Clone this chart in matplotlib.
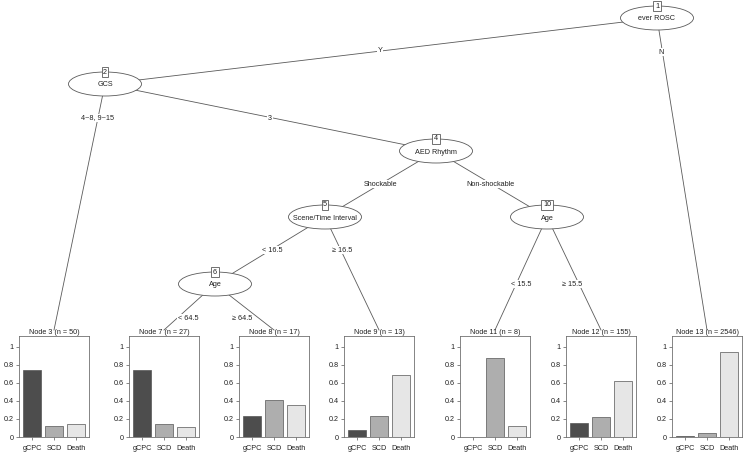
import matplotlib
matplotlib.use("Agg")
import matplotlib.pyplot as plt
from matplotlib.patches import Ellipse

plt.rcParams['font.family'] = ['Liberation Sans', 'DejaVu Sans']

# outcome classes and bar shades
classes = ['gCPC', 'SCD', 'Death']
class_colors = ['#4d4d4d', '#aeaeae', '#e6e6e6']

# inner (split) nodes: id, variable
inner_ids = [1, 2, 4, 5, 6, 10]
inner_vars = ['ever ROSC', 'GCS', 'AED Rhythm', 'Scene/Time Interval', 'Age', 'Age']

# terminal nodes: id, n, class proportions (gCPC, SCD, Death)
leaf_ids = [3, 7, 8, 9, 11, 12, 13]
leaf_n = [50, 27, 17, 13, 8, 155, 2546]
leaf_props = [
    [0.74, 0.12, 0.14],
    [0.74, 0.148, 0.111],
    [0.235, 0.412, 0.353],
    [0.077, 0.231, 0.692],
    [0.0, 0.875, 0.125],
    [0.155, 0.225, 0.62],
    [0.015, 0.04, 0.945],
]

# edges: parent, child, split label
edge_parent = [1, 1, 2, 2, 4, 4, 5, 5, 6, 6, 10, 10]
edge_child = [2, 13, 3, 4, 5, 10, 6, 9, 7, 8, 11, 12]
edge_labels = ['Y', 'N', '4~8, 9~15', '3', 'Shockable', 'Non-shockable',
               '< 16.5', '\u2265 16.5', '< 64.5', '\u2265 64.5', '< 15.5', '\u2265 15.5']

# ---- layout (pixel space of a 753x454 canvas) ----
W, H = 753, 454
inner_pos = {1: (657, 18), 2: (105, 84), 4: (436, 151),
             5: (325, 217), 6: (215, 284), 10: (547, 217)}
leaf_cx = {3: 54, 7: 164, 8: 274, 9: 379, 11: 495, 12: 601, 13: 707}
label_pos = [(380, 51), (661, 52), (98, 118), (270, 118), (381, 184), (491, 184),
             (272, 250), (342, 250), (188, 318), (242, 318), (521, 284), (572, 284)]
ell_w, ell_h = 73, 24
panel_w, panel_top, panel_bot = 70, 336, 437
line_col = '#5a5a5a'
fs = 5.2

fig = plt.figure(figsize=(W / 100, H / 100), dpi=100)
ax = fig.add_axes([0, 0, 1, 1])
ax.set_xlim(0, W)
ax.set_ylim(H, 0)
ax.axis('off')

# edges
for (p, c, lab, (lx, ly)) in zip(edge_parent, edge_child, edge_labels, label_pos):
    x0, y0 = inner_pos[p]
    if c in inner_pos:
        x1, y1 = inner_pos[c]
    else:
        x1, y1 = leaf_cx[c], 330
    ax.plot([x0, x1], [y0, y1], color=line_col, lw=0.6, zorder=1)
    ax.text(lx, ly, lab, ha='center', va='center', fontsize=fs, color='#222222', zorder=3,
            bbox=dict(boxstyle='square,pad=0.1', fc='white', ec='none'))

# inner nodes
for nid, var in zip(inner_ids, inner_vars):
    x, y = inner_pos[nid]
    ax.add_patch(Ellipse((x, y), ell_w, ell_h, fc='white', ec=line_col, lw=0.6, zorder=2))
    ax.text(x, y + 1, var, ha='center', va='center', fontsize=fs, color='#222222', zorder=3)
    ax.text(x, y - ell_h / 2, str(nid), ha='center', va='center', fontsize=fs,
            color='#222222', zorder=4,
            bbox=dict(boxstyle='square,pad=0.2', fc='white', ec=line_col, lw=0.6))

# terminal nodes
for nid, n, props in zip(leaf_ids, leaf_n, leaf_props):
    cx = leaf_cx[nid]
    left = (cx - panel_w / 2) / W
    bottom = 1 - panel_bot / H
    lax = fig.add_axes([left, bottom, panel_w / W, (panel_bot - panel_top) / H])
    lax.bar([1, 2, 3], props, width=0.82, color=class_colors, edgecolor='#555555', lw=0.5)
    lax.set_xlim(0.4, 3.6)
    lax.set_ylim(0, 1.122)
    lax.set_xticks([1, 2, 3])
    lax.set_xticklabels(classes)
    lax.set_yticks([0, 0.2, 0.4, 0.6, 0.8, 1])
    lax.set_yticklabels(['0', '0.2', '0.4', '0.6', '0.8', '1'])
    lax.tick_params(labelsize=fs, length=2.5, width=0.5, pad=1.5,
                    colors='#555555', labelcolor='#222222')
    lax.tick_params(axis='x', pad=3)
    for s in lax.spines.values():
        s.set_color('#707070')
        s.set_linewidth(0.6)
    lax.set_title(f'Node {nid} (n = {n})', fontsize=fs, pad=1.5, color='#222222')

fig.savefig('out.png', dpi=100)
